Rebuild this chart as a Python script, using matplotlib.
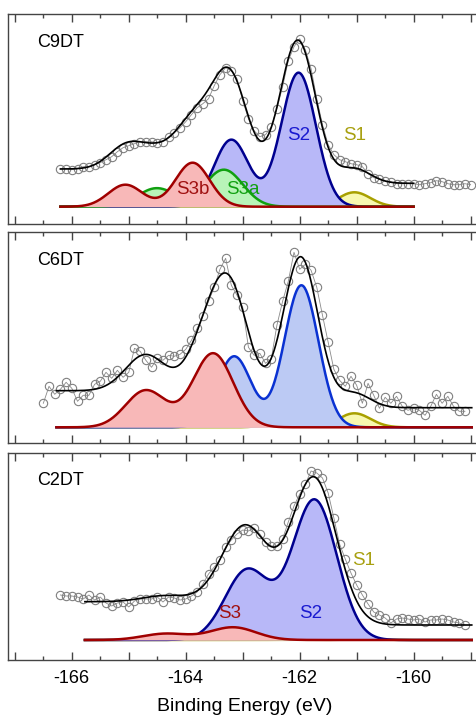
import matplotlib
matplotlib.use('Agg')
import matplotlib.pyplot as plt
import numpy as np
from matplotlib.ticker import MultipleLocator, FuncFormatter

plt.rcParams['font.family'] = ['Liberation Sans', 'DejaVu Sans']
plt.rcParams['axes.unicode_minus'] = False

# ---- measured spectra (binding energy in eV, intensity in arb. units) ----
c9_energy = np.round(np.arange(-166.2, -158.95, 0.1), 2)
c9_counts = [38, 38, 37, 38, 40, 40, 42, 44, 47, 50,
             55, 59, 61, 63, 65, 65, 65, 64, 65, 70,
             74, 79, 85, 92, 99, 103, 108, 121, 132, 139,
             136, 128, 106, 88, 76, 70, 72, 80, 98, 120,
             146, 160, 168, 157, 138, 108, 82, 62, 52, 47,
             45, 43, 42, 40, 33, 29, 28, 26, 25, 23,
             23, 23, 23, 22, 23, 24, 26, 25, 23, 22,
             22, 23, 22]

c6_energy = np.round(np.arange(-166.5, -159.05, 0.1), 2)
c6_counts = [24, 41, 33, 38, 45, 39, 26, 32, 32, 43,
             46, 55, 49, 57, 50, 55, 79, 76, 67, 60,
             69, 67, 72, 71, 73, 78, 87, 99, 111, 126,
             140, 158, 169, 142, 132, 120, 80, 72, 74, 64,
             68, 102, 126, 146, 175, 158, 163, 157, 140, 112,
             85, 58, 47, 41, 51, 42, 24, 44, 32, 19,
             30, 24, 31, 21, 17, 19, 17, 12, 21, 33,
             24, 31, 21, 16, 16]

c2_energy = np.round(np.arange(-166.2, -159.05, 0.1), 2)
c2_counts = [45, 44, 44, 43, 41, 45, 40, 43, 37, 34,
             37, 38, 33, 39, 41, 41, 41, 43, 38, 43,
             42, 40, 41, 44, 48, 56, 66, 73, 80, 93,
             100, 106, 110, 109, 112, 106, 98, 94, 94, 101,
             118, 134, 146, 156, 169, 167, 162, 147, 122, 96,
             81, 67, 55, 45, 36, 28, 25, 22, 17, 21,
             22, 21, 20, 21, 18, 20, 20, 21, 20, 18,
             17, 15]

# ---- fitted S 2p doublets: 2p3/2 position, 2p3/2 height, gaussian width ----
c9_names = ['S1', 'S2', 'S3a', 'S3b']
c9_pos = [-161.04, -162.02, -163.33, -163.88]
c9_height = [14.4, 134, 37, 44]
c9_width = [0.28, 0.305, 0.33, 0.30]
c9_bg = [37.7, 23.4]          # background level left / right
c9_range = [-166.2, -160.0]

c6_names = ['S1', 'S2', 'S3']
c6_pos = [-161.04, -161.97, -163.52]
c6_height = [14, 142, 74]
c6_width = [0.28, 0.30, 0.354]
c6_bg = [36.6, 19.6]
c6_range = [-166.27, -158.98]

c2_names = ['S1', 'S2', 'S3']
c2_pos = [-161.0, -161.74, -163.17]
c2_height = [0.5, 140, 12.7]
c2_width = [0.30, 0.39, 0.40]
c2_bg = [38.3, 15.0]
c2_range = [-165.77, -158.98]

SO_SPLIT = 1.18
SO_RATIO = 0.5

LINE = {'S1': '#a8a000', 'S2': '#00008f', 'S3a': '#10a010', 'S3b': '#a00000', 'S3': '#a00000'}
FILL = {'S1': '#f8f8b0', 'S2': '#b8b8f8', 'S3a': '#b8f4b8', 'S3b': '#f8b8b8', 'S3': '#f8b8b8'}
ORDER = {'S1': 1, 'S2': 2, 'S3a': 3, 'S3b': 4, 'S3': 4}


def doublet(x, pos, h, w):
    g = lambda c, a: a * np.exp(-(x - c) ** 2 / (2 * w ** 2))
    return g(pos, h) + g(pos - SO_SPLIT, h * SO_RATIO)


def draw_panel(ax, tag, energy, counts, names, pos, height, width, bg, xr,
               s2_line=None, s2_fill=None):
    x = np.linspace(xr[0], xr[1], 600)
    total = np.zeros_like(x)
    for n, p, h, w in zip(names, pos, height, width):
        y = doublet(x, p, h, w)
        total += y
        lc = LINE[n]
        fc = FILL[n]
        if n == 'S2' and s2_line:
            lc, fc = s2_line, s2_fill
        ax.fill_between(x, 0, y, color=fc, lw=0, zorder=ORDER[n])
        ax.plot(x, y, color=lc, lw=1.8, zorder=ORDER[n] + 0.5)

    # Shirley-type step background for the envelope
    dx = x[1] - x[0]
    right_area = np.cumsum(total[::-1])[::-1] * dx
    shirley = bg[1] + (bg[0] - bg[1]) * right_area / right_area[0]

    ax.plot(energy, counts, color='#8a8a8a', lw=0.6, marker='o', ms=6,
            mfc='none', mec='#808080', mew=0.8, zorder=6)
    ax.plot(x, total + shirley, color='black', lw=1.2, zorder=7)

    ax.text(0.061, 0.865, tag, transform=ax.transAxes, fontsize=13,
            va='center', ha='left')


def even_only(v, _):
    return f'{v:.0f}' if round(v) % 2 == 0 else ''


fig = plt.figure(figsize=(4.76, 7.2), dpi=100)
W, H = 476, 720
boxes = [(14, 224), (232, 443.3), (453, 660)]
ylims = [(-17.3, 192.7), (-16.0, 195.3), (-20, 187)]
axes = []
for (top, bot), yl in zip(boxes, ylims):
    ax = fig.add_axes([8 / W, 1 - bot / H, 474 / W, (bot - top) / H])
    ax.set_xlim(-167.12, -158.8)
    ax.set_ylim(*yl)
    ax.set_yticks([])
    ax.xaxis.set_major_locator(MultipleLocator(1))
    ax.xaxis.set_minor_locator(MultipleLocator(0.5))
    ax.xaxis.set_major_formatter(FuncFormatter(even_only))
    ax.tick_params(axis='x', which='both', direction='in', top=True, bottom=True,
                   width=1, color='#444444', labelsize=13, pad=7)
    ax.tick_params(axis='x', which='major', length=5.5, labelbottom=False)
    ax.tick_params(axis='x', which='minor', length=3)
    for sp in ax.spines.values():
        sp.set_color('#444444')
        sp.set_linewidth(1)
    axes.append(ax)

draw_panel(axes[0], 'C9DT', c9_energy, c9_counts, c9_names, c9_pos, c9_height,
           c9_width, c9_bg, c9_range)
draw_panel(axes[1], 'C6DT', c6_energy, c6_counts, c6_names, c6_pos, c6_height,
           c6_width, c6_bg, c6_range, s2_line='#0a32d2', s2_fill='#bccaf4')
draw_panel(axes[2], 'C2DT', c2_energy, c2_counts, c2_names, c2_pos, c2_height,
           c2_width, c2_bg, c2_range)

# peak labels
lab = dict(fontsize=13.5, ha='center', va='center', zorder=10)
axes[0].text(-162.02, 71.7, 'S2', color='#1a1ad0', **lab)
axes[0].text(-161.04, 71.7, 'S1', color='#a8a010', **lab)
axes[0].text(-163.88, 16.7, 'S3b', color='#a01010', **lab)
axes[0].text(-163.0, 16.7, 'S3a', color='#10a010', **lab)
axes[2].text(-160.87, 79.3, 'S1', color='#a8a010', **lab)
axes[2].text(-163.23, 26, 'S3', color='#a01010', **lab)
axes[2].text(-161.8, 26, 'S2', color='#1a1ad0', **lab)

axes[2].tick_params(axis='x', which='major', labelbottom=True)
axes[2].set_xlabel('Binding Energy (eV)', fontsize=14, labelpad=8)

fig.savefig('out.png', dpi=100)
